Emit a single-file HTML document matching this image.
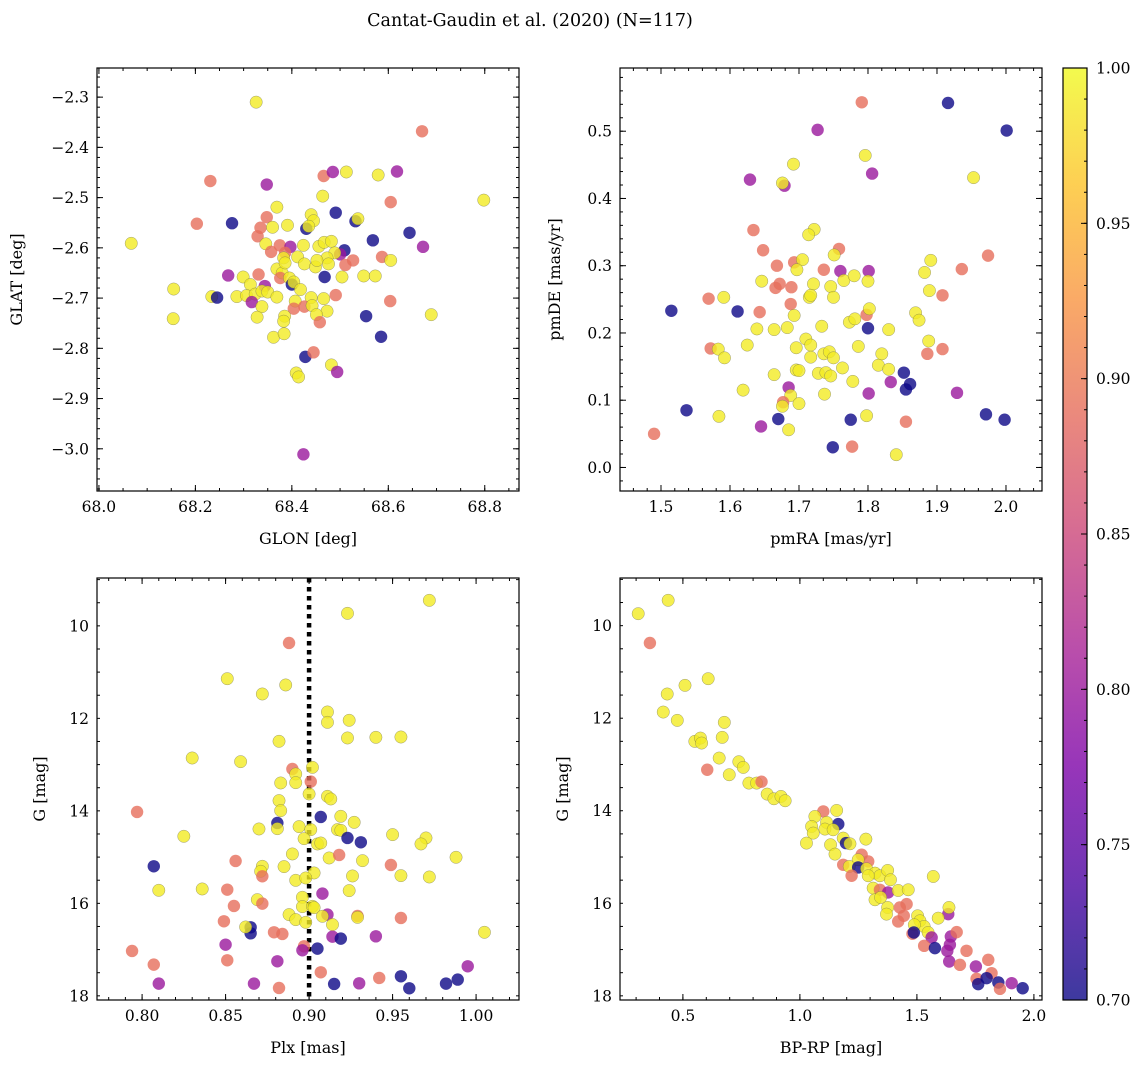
<!DOCTYPE html>
<html><head><meta charset="utf-8"><style>
html,body{margin:0;padding:0;background:#fff;}
svg{display:block;font-family:"DejaVu Serif","Liberation Serif",serif;}
</style></head><body>
<svg id="fig" width="1148" height="1067" viewBox="0 0 1148 1067">
<text x="530" y="26" text-anchor="middle" font-size="17.5">Cantat-Gaudin et al. (2020) (N=117)</text>
</svg>
<script>
// ---- Panel 1: GLON / GLAT ----
const glon=[68.326,68.670,68.231,68.348,68.466,68.485,68.513,68.579,68.618,68.464,68.798,68.605,68.369,68.491,68.203,68.276,68.348,68.335,68.360,68.391,68.440,68.445,68.430,68.435,68.532,68.537,68.067,68.329,68.346,68.644,68.568,68.672,68.375,68.397,68.424,68.357,68.386,68.456,68.467,68.482,68.509,68.500,68.489,68.587,68.605,68.527,68.511,68.383,68.412,68.426,68.449,68.473,68.476,68.452,68.369,68.380,68.386,68.268,68.331,68.299,68.376,68.395,68.468,68.504,68.549,68.573,68.400,68.404,68.314,68.344,68.155,68.234,68.245,68.286,68.306,68.324,68.338,68.350,68.369,68.317,68.338,68.418,68.491,68.604,68.466,68.440,68.407,68.404,68.426,68.442,68.473,68.451,68.458,68.328,68.154,68.385,68.383,68.554,68.689,68.585,68.362,68.384,68.428,68.445,68.482,68.494,68.409,68.414,68.424];
const glat=[-2.310,-2.368,-2.467,-2.474,-2.457,-2.449,-2.449,-2.455,-2.448,-2.497,-2.505,-2.509,-2.519,-2.530,-2.552,-2.551,-2.539,-2.560,-2.559,-2.555,-2.534,-2.546,-2.562,-2.557,-2.547,-2.542,-2.591,-2.577,-2.592,-2.570,-2.585,-2.598,-2.595,-2.598,-2.595,-2.608,-2.610,-2.597,-2.589,-2.587,-2.605,-2.613,-2.610,-2.618,-2.625,-2.625,-2.634,-2.620,-2.618,-2.632,-2.638,-2.620,-2.632,-2.625,-2.642,-2.650,-2.630,-2.655,-2.653,-2.658,-2.660,-2.660,-2.658,-2.658,-2.656,-2.656,-2.673,-2.668,-2.673,-2.676,-2.682,-2.697,-2.699,-2.697,-2.695,-2.692,-2.686,-2.688,-2.698,-2.708,-2.717,-2.683,-2.694,-2.706,-2.701,-2.699,-2.706,-2.721,-2.717,-2.715,-2.726,-2.733,-2.748,-2.738,-2.741,-2.736,-2.746,-2.736,-2.733,-2.777,-2.778,-2.771,-2.817,-2.808,-2.833,-2.847,-2.849,-2.857,-3.011];
const prob1="YSSMSMYYMY"+"YSYBSBSSYY"+"YYBYBYYSYB"+"BMSMYSSYYY"+"BMYSYSSYYY"+"YYYYYYYMSY"+"SYBYYYBYYM"+"YYBYYYYYYM"+"YYSSYYYSSY"+"YYSYYYYBYB"+"YYBSYMYYM";
// ---- Panel 2: pmRA / pmDE ----
const pmra=[1.791,1.916,2.001,1.727,1.796,1.692,1.806,1.953,1.629,1.679,1.676,1.634,1.722,1.714,1.648,1.758,1.751,1.891,1.974,1.668,1.693,1.705,1.697,1.736,1.760,1.801,1.882,1.936,1.646,1.672,1.666,1.689,1.721,1.746,1.765,1.780,1.800,1.889,1.569,1.591,1.715,1.717,1.750,1.908,1.515,1.611,1.643,1.688,1.693,1.798,1.802,1.869,1.874,1.639,1.664,1.683,1.733,1.773,1.781,1.800,1.830,1.572,1.583,1.592,1.625,1.696,1.710,1.717,1.717,1.736,1.744,1.750,1.786,1.820,1.888,1.886,1.908,1.664,1.696,1.700,1.728,1.739,1.746,1.763,1.815,1.830,1.852,1.861,1.855,1.833,1.778,1.619,1.685,1.688,1.737,1.801,1.929,1.677,1.676,1.700,1.537,1.584,1.670,1.775,1.798,1.855,1.971,1.998,1.490,1.645,1.685,1.749,1.777,1.841];
const pmde=[0.543,0.542,0.501,0.502,0.464,0.451,0.437,0.431,0.428,0.419,0.423,0.353,0.354,0.346,0.323,0.325,0.316,0.308,0.315,0.300,0.305,0.309,0.294,0.294,0.292,0.292,0.290,0.295,0.277,0.273,0.267,0.268,0.273,0.269,0.278,0.285,0.277,0.263,0.251,0.253,0.253,0.256,0.253,0.256,0.233,0.232,0.231,0.243,0.226,0.227,0.236,0.230,0.219,0.206,0.205,0.208,0.210,0.216,0.221,0.207,0.205,0.177,0.176,0.163,0.182,0.178,0.191,0.182,0.164,0.169,0.172,0.163,0.180,0.169,0.188,0.169,0.176,0.138,0.145,0.144,0.140,0.141,0.136,0.148,0.152,0.146,0.141,0.124,0.116,0.127,0.128,0.115,0.119,0.107,0.109,0.110,0.111,0.097,0.091,0.095,0.085,0.076,0.072,0.071,0.077,0.068,0.079,0.071,0.050,0.061,0.056,0.030,0.031,0.019];
const prob2="SBBMYYMYMM"+"YSYYSSYYSS"+"SYYSMMYSYS"+"SSYYYYYYSY"+"YYYSBBSSYS"+"YYYYYYYYYB"+"YSYYYYYYYY"+"YYYYYSSYYY"+"YYYYYYBBBM"+"YYMYYMMSYY"+"BYBBYSBBSM"+"YBSY";
// ---- Panel 3: Plx / G ----
const plx=[0.972,0.923,0.888,0.851,0.872,0.886,0.911,0.911,0.924,0.923,0.940,0.955,0.882,0.830,0.859,0.890,0.892,0.902,0.883,0.892,0.901,0.900,0.911,0.913,0.797,0.882,0.883,0.881,0.881,0.907,0.919,0.927,0.870,0.894,0.901,0.917,0.919,0.923,0.931,0.897,0.905,0.907,0.950,0.970,0.967,0.825,0.890,0.912,0.918,0.932,0.988,0.856,0.807,0.885,0.872,0.871,0.872,0.949,0.903,0.926,0.955,0.972,0.892,0.898,0.810,0.836,0.851,0.908,0.924,0.869,0.872,0.896,0.855,0.896,0.902,0.903,0.849,0.888,0.892,0.898,0.911,0.908,0.929,0.929,0.955,0.914,0.865,0.865,0.862,0.879,0.884,1.005,0.914,0.919,0.940,0.794,0.850,0.897,0.896,0.905,0.881,0.851,0.807,0.995,0.907,0.810,0.867,0.882,0.915,0.930,0.942,0.955,0.960,0.982,0.989];
const gmag3=[9.448,9.729,10.370,11.142,11.473,11.278,11.862,12.086,12.042,12.424,12.410,12.403,12.496,12.857,12.936,13.095,13.203,13.059,13.397,13.390,13.368,13.635,13.686,13.743,14.024,13.779,13.995,14.262,14.385,14.132,14.118,14.248,14.392,14.341,14.406,14.406,14.421,14.586,14.680,14.601,14.716,14.695,14.514,14.586,14.716,14.550,14.932,15.019,14.954,15.077,15.004,15.084,15.199,15.206,15.199,15.307,15.415,15.170,15.343,15.408,15.401,15.430,15.502,15.451,15.718,15.689,15.704,15.790,15.725,15.920,16.006,15.869,16.057,16.071,16.064,16.093,16.388,16.244,16.352,16.410,16.244,16.280,16.273,16.302,16.316,16.460,16.518,16.648,16.511,16.626,16.662,16.626,16.720,16.763,16.713,17.030,16.893,16.929,17.015,16.979,17.253,17.231,17.325,17.361,17.491,17.736,17.736,17.830,17.743,17.729,17.613,17.577,17.837,17.736,17.649];
const prob3="YYSYYYYYYY"+"YYYYYSYYYY"+"SYYYSYYBYB"+"YYYYYYYBBY"+"YYYYYYYYSY"+"YSBYYYSSYY"+"YYYYYYSMYY"+"SYSYYYSYYY"+"MYSYSYBBYS"+"SYMBMSMSMB"+"MSSMSMMSBM"+"SBBBB";
// ---- Panel 4: BP-RP / G ----
const bprp=[0.309,0.437,0.359,0.608,0.509,0.433,0.416,0.476,0.677,0.668,0.551,0.575,0.580,0.655,0.604,0.739,0.758,0.698,0.782,0.815,0.836,0.860,0.889,0.919,0.937,1.100,1.157,1.064,1.164,1.114,1.050,1.057,1.107,1.142,1.028,1.185,1.197,1.214,1.131,1.282,1.150,1.264,1.292,1.249,1.185,1.211,1.249,1.285,1.221,1.321,1.342,1.375,1.387,1.292,1.570,1.313,1.342,1.377,1.420,1.463,1.321,1.345,1.375,1.370,1.427,1.456,1.420,1.444,1.634,1.637,1.591,1.503,1.513,1.531,1.489,1.481,1.548,1.563,1.531,1.577,1.645,1.670,1.641,1.630,1.638,1.712,1.684,1.752,1.805,1.819,1.755,1.762,1.798,1.848,1.855,1.905,1.952,1.487];
const gmag4=[9.741,9.452,10.375,11.146,11.290,11.477,11.867,12.047,12.090,12.414,12.501,12.429,12.537,12.861,13.114,12.941,13.063,13.222,13.402,13.402,13.373,13.640,13.741,13.690,13.784,14.014,13.993,14.123,14.288,14.252,14.339,14.483,14.396,14.411,14.699,14.591,14.699,14.714,14.735,14.613,14.937,14.951,15.095,15.059,15.168,15.204,15.225,15.254,15.405,15.348,15.405,15.290,15.492,15.405,15.420,15.672,15.708,15.766,15.723,15.708,15.924,15.874,16.090,16.234,16.090,16.018,16.393,16.270,16.234,16.090,16.321,16.270,16.378,16.501,16.465,16.659,16.631,16.739,16.919,16.969,16.717,16.623,16.897,17.027,17.258,17.027,17.330,17.366,17.222,17.510,17.632,17.748,17.618,17.712,17.849,17.726,17.836,16.631];
const prob4="YYSYYYYYYY"+"YYYYSYYYYY"+"SYYYYSYYBY"+"YYYYYYBYYY"+"YSSYSYBYSY"+"YYYYYYSMYY"+"YYYYSSSSMY"+"YYYYYSYMSB"+"MSMMMSSMSS"+"SBBBSMBB";
const probCodes={Y:0.99,S:0.89,M:0.80,B:0.70};
const ticks1x=[68.0,68.2,68.4,68.6,68.8], ticks1y=[-2.3,-2.4,-2.5,-2.6,-2.7,-2.8,-2.9,-3.0];
const ticks2x=[1.5,1.6,1.7,1.8,1.9,2.0], ticks2y=[0.0,0.1,0.2,0.3,0.4,0.5];
const ticks3x=[0.80,0.85,0.90,0.95,1.00], ticksG=[10,12,14,16,18];
const ticks4x=[0.5,1.0,1.5,2.0];
const cbTicks=[0.70,0.75,0.80,0.85,0.90,0.95,1.00];

const NS="http://www.w3.org/2000/svg";
const svg=document.getElementById('fig');
function el(tag,attrs,parent){const e=document.createElementNS(NS,tag);for(const k in attrs)e.setAttribute(k,attrs[k]);(parent||svg).appendChild(e);return e;}
const PL=[[13,8,135],[75,3,161],[125,3,168],[168,34,150],[203,70,121],[229,107,93],[248,148,65],[253,195,40],[240,249,33]];
function plasma(t){t=Math.max(0,Math.min(1,t));const s=t*(PL.length-1);const i=Math.min(PL.length-2,Math.floor(s));const f=s-i;
 return 'rgb('+PL[i].map((c,k)=>Math.round(c+(PL[i+1][k]-c)*f)).join(',')+')';}
function cmap(p){return plasma((p-0.7)/0.3);}
function fmt(v,d){return (v<0?'\u2212':'')+Math.abs(v).toFixed(d);}

function panel(o){
 const g=el('g',{});
 
 
 const sx=v=>o.x0+(v-o.xmin)/(o.xmax-o.xmin)*(o.x1-o.x0);
 const sy=v=>o.y1-(v-o.ymin)/(o.ymax-o.ymin)*(o.y1-o.y0);
 const tg=el('g',{stroke:'#000','stroke-width':1},g);
 for(let v=Math.ceil(o.xmin/o.xminor)*o.xminor;v<=o.xmax;v+=o.xminor){const x=sx(v);el('line',{x1:x,x2:x,y1:o.y1,y2:o.y1-3},tg);el('line',{x1:x,x2:x,y1:o.y0,y2:o.y0+3},tg);}
 for(let v=Math.ceil(o.ymin/o.yminor)*o.yminor;v<=o.ymax;v+=o.yminor){const y=sy(v);el('line',{x1:o.x0,x2:o.x0+3,y1:y,y2:y},tg);el('line',{x1:o.x1,x2:o.x1-3,y1:y,y2:y},tg);}
 o.xt.forEach(v=>{const x=sx(v);el('line',{x1:x,x2:x,y1:o.y1,y2:o.y1-6},tg);el('line',{x1:x,x2:x,y1:o.y0,y2:o.y0+6},tg);
  const t=el('text',{x:x,y:o.y1+21,'text-anchor':'middle','font-size':15.5},g);t.textContent=fmt(v,o.xd);
  
  });
 o.yt.forEach(v=>{const y=sy(v);el('line',{x1:o.x0,x2:o.x0+6,y1:y,y2:y},tg);el('line',{x1:o.x1,x2:o.x1-6,y1:y,y2:y},tg);
  const t=el('text',{x:o.x0-8,y:y+5.5,'text-anchor':'end','font-size':15.5},g);t.textContent=fmt(v,o.yd);
  
  });
 if(o.vline!==undefined){const ln=el('line',{x1:sx(o.vline),x2:sx(o.vline),y1:o.y0,y2:o.y1,stroke:'#000','stroke-width':4.5,'stroke-dasharray':'4.5 4.5'},g);
  
  }
 const pg=el('g',{},g);
 for(let i=0;i<o.xs.length;i++){
  const p=probCodes[o.pr[i]]||0.99;
  const c=el('circle',{cx:sx(o.xs[i]),cy:sy(o.ys[i]),r:6.2,fill:cmap(p),'fill-opacity':0.8,stroke:'#555','stroke-opacity':p>0.95?0.55:0,'stroke-width':0.5},pg);
  
  
 }
 const fr=el('rect',{x:o.x0,y:o.y0,width:o.x1-o.x0,height:o.y1-o.y0,fill:'none',stroke:'#000','stroke-width':1.2},g);
 
 
 const xl=el('text',{x:(o.x0+o.x1)/2,y:o.y1+53,'text-anchor':'middle','font-size':16},g);xl.textContent=o.xlab;
 
 
 const yx=o.x0-o.ylo, yy=(o.y0+o.y1)/2;
 const yl=el('text',{x:yx,y:yy,'text-anchor':'middle','font-size':16,transform:'rotate(-90 '+yx+' '+yy+')'},g);yl.textContent=o.ylab;
 
 
}
panel({name:'glon-glat-panel',x0:97,x1:519,y0:68,y1:491,xmin:67.996,xmax:68.871,ymin:-3.084,ymax:-2.242,xt:ticks1x,yt:ticks1y,xminor:0.05,yminor:0.02,xd:1,yd:1,xs:glon,ys:glat,pr:prob1,xlab:'GLON [deg]',ylab:'GLAT [deg]',ylo:75});
panel({name:'pm-panel',x0:620,x1:1042,y0:68,y1:491,xmin:1.4406,xmax:2.0522,ymin:-0.035,ymax:0.594,xt:ticks2x,yt:ticks2y,xminor:0.02,yminor:0.02,xd:1,yd:1,xs:pmra,ys:pmde,pr:prob2,xlab:'pmRA [mas/yr]',ylab:'pmDE [mas/yr]',ylo:60});
panel({name:'plx-g-panel',x0:97,x1:519,y0:578,y1:1000,xmin:0.773,xmax:1.0257,ymin:-18.09,ymax:-8.965,xt:ticks3x,yt:[],xminor:0.01,yminor:0.5,xd:2,yd:0,xs:plx,ys:gmag3.map(v=>-v),pr:prob3,xlab:'Plx [mas]',ylab:'G [mag]',ylo:52,vline:0.90});
panel({name:'cmd-panel',x0:620,x1:1042,y0:578,y1:1000,xmin:0.2312,xmax:2.0346,ymin:-18.09,ymax:-8.97,xt:ticks4x,yt:[],xminor:0.1,yminor:0.5,xd:1,yd:0,xs:bprp,ys:gmag4.map(v=>-v),pr:prob4,xlab:'BP-RP [mag]',ylab:'G [mag]',ylo:52});
[[97,8.965,18.09],[620,8.97,18.09]].forEach(([x0,gmin,gmax])=>{
 ticksG.forEach(v=>{const y=578+(v-gmin)/(gmax-gmin)*422;
  const t=el('text',{x:x0-8,y:y+5.5,'text-anchor':'end','font-size':15.5});t.textContent=String(v);
  
  });
});
const defs=el('defs',{});
const lg=el('linearGradient',{id:'cbg',x1:0,y1:1,x2:0,y2:0},defs);
for(let i=0;i<=24;i++){el('stop',{offset:i/24,'stop-color':plasma(i/24),'stop-opacity':0.8},lg);}
const cb=el('rect',{x:1063,y:68,width:24,height:932,fill:'url(#cbg)',stroke:'#000','stroke-width':1.2});


const cy=v=>1000-(v-0.7)/0.3*932;
for(let v=0.70;v<=1.0001;v+=0.01){const y=cy(v);el('line',{x1:1087,x2:1084,y1:y,y2:y,stroke:'#000'});}
cbTicks.forEach(v=>{const y=cy(v);el('line',{x1:1087,x2:1081,y1:y,y2:y,stroke:'#000'});
 const t=el('text',{x:1096,y:y+5.5,'font-size':15.5});t.textContent=v.toFixed(2);
 
 });
</script>
</body></html>
